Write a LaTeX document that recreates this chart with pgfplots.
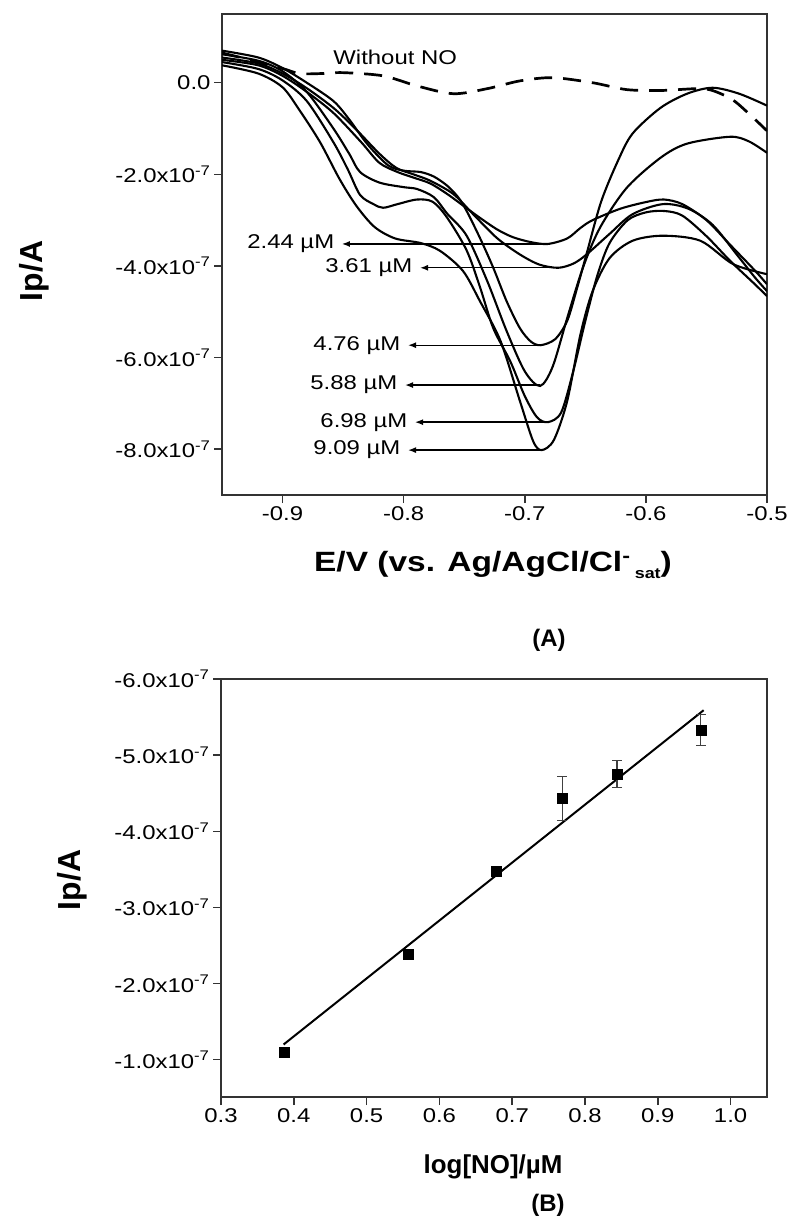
\documentclass[border=0pt]{standalone}
\usepackage{pgfplots}
\pgfplotsset{compat=1.18}
\usetikzlibrary{arrows.meta}
\usepackage{fontspec}
\setmainfont{Liberation Sans}[FakeStretch=1.2]
\newfontfamily\plainsans{Liberation Sans}
\begin{document}
\begin{tikzpicture}
\useasboundingbox (0,0) rectangle (791bp,-1216bp);
\pgfplotsset{
  common/.style={scale only axis,
    axis line style={black!80, line width=1.9bp},
    tick align=outside, tick pos=left,
    major tick length=8bp,
    every tick/.style={black!80, line width=1.5bp},
    ticklabel style={font=\fontsize{20}{24}\selectfont},
    /pgf/number format/assume math mode=true,
    scaled ticks=false},
  cv/.style={black, line width=2.1bp, smooth, mark=none},
}
% ---------------- (A) ----------------
\begin{axis}[common, at={(222bp,-14bp)}, anchor=north west,
  width=545bp, height=481bp,
  xmin=-0.95, xmax=-0.5, ymin=-9e-7, ymax=1.5e-7,
  xtick={-0.9,-0.8,-0.7,-0.6,-0.5},
  xticklabels={-0.9,-0.8,-0.7,-0.6,-0.5},
  ytick={-8e-7,-6e-7,-4e-7,-2e-7,0},
  yticklabels={-8.0x10\textsuperscript{-7},-6.0x10\textsuperscript{-7},-4.0x10\textsuperscript{-7},-2.0x10\textsuperscript{-7},0.0},
]
% without NO (dashed)
\addplot[cv, dash pattern=on 18bp off 11bp, line width=2.7bp] coordinates {(-0.95,0.65e-7) (-0.927,0.50e-7) (-0.900,0.31e-7) (-0.886,0.20e-7) (-0.868,0.20e-7) (-0.850,0.22e-7) (-0.817,0.15e-7) (-0.789,-0.07e-7) (-0.759,-0.24e-7) (-0.731,-0.13e-7) (-0.704,0.04e-7) (-0.677,0.11e-7) (-0.644,0.0) (-0.616,-0.15e-7) (-0.588,-0.17e-7) (-0.558,-0.13e-7) (-0.545,-0.17e-7) (-0.528,-0.38e-7) (-0.512,-0.75e-7) (-0.50,-1.05e-7)};
% 2.44 uM
\addplot[cv] coordinates {(-0.95,0.50e-7) (-0.92,0.38e-7) (-0.90,0.15e-7) (-0.88,-0.20e-7) (-0.858,-0.66e-7) (-0.835,-1.30e-7) (-0.82,-1.75e-7) (-0.805,-1.95e-7) (-0.792,-2.07e-7) (-0.778,-2.20e-7) (-0.764,-2.43e-7) (-0.750,-2.70e-7) (-0.737,-2.95e-7) (-0.723,-3.20e-7) (-0.710,-3.37e-7) (-0.695,-3.48e-7) (-0.681,-3.52e-7) (-0.665,-3.40e-7) (-0.654,-3.17e-7) (-0.644,-3.00e-7) (-0.621,-2.75e-7) (-0.599,-2.60e-7) (-0.585,-2.55e-7) (-0.57,-2.65e-7) (-0.55,-3.00e-7) (-0.53,-3.55e-7) (-0.51,-4.10e-7) (-0.50,-4.40e-7)};
% 3.61 uM
\addplot[cv] coordinates {(-0.95,0.55e-7) (-0.92,0.42e-7) (-0.90,0.20e-7) (-0.88,-0.12e-7) (-0.858,-0.55e-7) (-0.84,-1.00e-7) (-0.82,-1.55e-7) (-0.806,-1.86e-7) (-0.792,-2.00e-7) (-0.778,-2.14e-7) (-0.759,-2.43e-7) (-0.743,-2.86e-7) (-0.723,-3.39e-7) (-0.704,-3.75e-7) (-0.688,-3.97e-7) (-0.6725,-4.04e-7) (-0.66,-3.95e-7) (-0.649,-3.75e-7) (-0.630,-3.30e-7) (-0.611,-2.87e-7) (-0.586,-2.65e-7) (-0.565,-2.75e-7) (-0.545,-3.10e-7) (-0.525,-3.75e-7) (-0.51,-4.25e-7) (-0.50,-4.55e-7)};
% 4.76 uM
\addplot[cv] coordinates {(-0.95,0.70e-7) (-0.92,0.55e-7) (-0.90,0.32e-7) (-0.88,0.0) (-0.858,-0.40e-7) (-0.845,-0.80e-7) (-0.830,-1.34e-7) (-0.813,-1.80e-7) (-0.800,-1.92e-7) (-0.786,-1.95e-7) (-0.775,-2.05e-7) (-0.764,-2.25e-7) (-0.755,-2.50e-7) (-0.748,-2.80e-7) (-0.737,-3.39e-7) (-0.726,-4.04e-7) (-0.715,-4.77e-7) (-0.704,-5.36e-7) (-0.695,-5.65e-7) (-0.687,-5.73e-7) (-0.675,-5.60e-7) (-0.665,-5.20e-7) (-0.657,-4.50e-7) (-0.649,-3.74e-7) (-0.637,-2.60e-7) (-0.623,-1.70e-7) (-0.611,-1.11e-7) (-0.588,-0.55e-7) (-0.566,-0.24e-7) (-0.545,-0.11e-7) (-0.523,-0.24e-7) (-0.50,-0.50e-7)};
% 5.88 uM
\addplot[cv] coordinates {(-0.95,0.62e-7) (-0.92,0.48e-7) (-0.90,0.25e-7) (-0.88,-0.20e-7) (-0.858,-1.00e-7) (-0.845,-1.55e-7) (-0.836,-1.95e-7) (-0.82,-2.18e-7) (-0.80,-2.28e-7) (-0.789,-2.32e-7) (-0.775,-2.50e-7) (-0.764,-2.86e-7) (-0.748,-3.34e-7) (-0.731,-4.33e-7) (-0.715,-5.42e-7) (-0.700,-6.30e-7) (-0.6874,-6.62e-7) (-0.677,-6.20e-7) (-0.665,-5.14e-7) (-0.652,-4.04e-7) (-0.638,-3.17e-7) (-0.616,-2.30e-7) (-0.588,-1.64e-7) (-0.566,-1.33e-7) (-0.5305,-1.18e-7) (-0.515,-1.28e-7) (-0.50,-1.53e-7)};
% 6.98 uM
\addplot[cv] coordinates {(-0.95,0.45e-7) (-0.92,0.30e-7) (-0.90,0.05e-7) (-0.88,-0.40e-7) (-0.858,-1.30e-7) (-0.846,-1.90e-7) (-0.836,-2.45e-7) (-0.825,-2.65e-7) (-0.817,-2.73e-7) (-0.805,-2.65e-7) (-0.789,-2.55e-7) (-0.776,-2.60e-7) (-0.764,-2.95e-7) (-0.748,-3.66e-7) (-0.737,-4.46e-7) (-0.726,-5.36e-7) (-0.712,-6.08e-7) (-0.700,-6.84e-7) (-0.690,-7.30e-7) (-0.681,-7.41e-7) (-0.670,-7.20e-7) (-0.660,-6.30e-7) (-0.650,-5.20e-7) (-0.640,-4.20e-7) (-0.630,-3.50e-7) (-0.615,-3.00e-7) (-0.600,-2.83e-7) (-0.585,-2.80e-7) (-0.570,-2.90e-7) (-0.550,-3.35e-7) (-0.530,-3.90e-7) (-0.510,-4.40e-7) (-0.50,-4.66e-7)};
% 9.09 uM
\addplot[cv] coordinates {(-0.95,0.38e-7) (-0.92,0.20e-7) (-0.90,-0.10e-7) (-0.886,-0.60e-7) (-0.869,-1.30e-7) (-0.853,-2.10e-7) (-0.839,-2.69e-7) (-0.824,-3.15e-7) (-0.807,-3.40e-7) (-0.786,-3.50e-7) (-0.770,-3.67e-7) (-0.751,-4.11e-7) (-0.737,-4.77e-7) (-0.720,-5.64e-7) (-0.704,-6.95e-7) (-0.693,-7.83e-7) (-0.686,-8.02e-7) (-0.676,-7.80e-7) (-0.665,-6.95e-7) (-0.654,-5.49e-7) (-0.644,-4.55e-7) (-0.630,-3.83e-7) (-0.611,-3.45e-7) (-0.586,-3.34e-7) (-0.555,-3.45e-7) (-0.528,-3.96e-7) (-0.50,-4.18e-7)};
% annotations
\tikzset{arr/.style={black, line width=1.4bp, -{Latex[length=8bp,width=6bp]}},
         lab/.style={anchor=east, inner xsep=7bp, inner ysep=0pt, font=\fontsize{20}{24}\selectfont}}
\draw[arr] (axis cs:-0.681,-3.52e-7) -- (axis cs:-0.851,-3.52e-7) node[lab] {2.44 µM};
\draw[arr] (axis cs:-0.6725,-4.04e-7) -- (axis cs:-0.7865,-4.04e-7) node[lab] {3.61 µM};
\draw[arr] (axis cs:-0.6874,-5.73e-7) -- (axis cs:-0.7964,-5.73e-7) node[lab] {4.76 µM};
\draw[arr] (axis cs:-0.6874,-6.60e-7) -- (axis cs:-0.7989,-6.60e-7) node[lab] {5.88 µM};
\draw[arr] (axis cs:-0.681,-7.41e-7) -- (axis cs:-0.7906,-7.41e-7) node[lab] {6.98 µM};
\draw[arr] (axis cs:-0.6874,-8.02e-7) -- (axis cs:-0.7964,-8.02e-7) node[lab] {9.09 µM};
\node[font=\fontsize{20}{24}\selectfont] at (axis cs:-0.807,0.55e-7) {Without NO};
\end{axis}
% ---------------- (B) ----------------
\begin{axis}[common, at={(221bp,-679bp)}, anchor=north west,
  width=546bp, height=418bp,
  xmin=0.3, xmax=1.05, y dir=reverse, ymin=-6e-7, ymax=-0.51e-7,
  xtick={0.3,0.4,0.5,0.6,0.7,0.8,0.9,1.0},
  xticklabels={0.3,0.4,0.5,0.6,0.7,0.8,0.9,1.0},
  ytick={-6e-7,-5e-7,-4e-7,-3e-7,-2e-7,-1e-7},
  yticklabels={-6.0x10\textsuperscript{-7},-5.0x10\textsuperscript{-7},-4.0x10\textsuperscript{-7},-3.0x10\textsuperscript{-7},-2.0x10\textsuperscript{-7},-1.0x10\textsuperscript{-7}},
]
\addplot[black, line width=2bp, mark=none] coordinates {(0.386,-1.20e-7) (0.963,-5.59e-7)};
\addplot[black, only marks, mark=square*, mark size=5bp,
  error bars/.cd, y dir=both, y explicit,
  error bar style={black!75, line width=1.1bp},
  error mark options={rotate=90, mark size=5bp, line width=1.1bp, black!75}]
  coordinates {
  (0.387,-1.10e-7) +- (0,0.05e-7)
  (0.557,-2.38e-7) +- (0,0.02e-7)
  (0.678,-3.48e-7) +- (0,0.02e-7)
  (0.769,-4.43e-7) +- (0,0.29e-7)
  (0.844,-4.75e-7) +- (0,0.18e-7)
  (0.959,-5.33e-7) +- (0,0.20e-7)
  };
\end{axis}
% labels
\node[font=\plainsans\bfseries\fontsize{32}{36}\selectfont, rotate=90] at (34bp,-271bp) {Ip/A};
\node[font=\bfseries\fontsize{28}{32}\selectfont] at (493bp,-565bp) {E/V (vs. Ag/AgCl/Cl\textsuperscript{-}\hspace{0.15em}\raisebox{-0.45ex}{\fontsize{15}{16}\selectfont sat})};
\node[font=\plainsans\bfseries\fontsize{24}{28}\selectfont] at (549bp,-640bp) {(A)};
\node[font=\plainsans\bfseries\fontsize{32}{36}\selectfont, rotate=90] at (72bp,-880bp) {Ip/A};
\node[font=\plainsans\bfseries\fontsize{26}{30}\selectfont] at (493bp,-1167bp) {log[NO]/µM};
\node[font=\plainsans\bfseries\fontsize{24}{28}\selectfont] at (548bp,-1205bp) {(B)};
\end{tikzpicture}
\end{document}
